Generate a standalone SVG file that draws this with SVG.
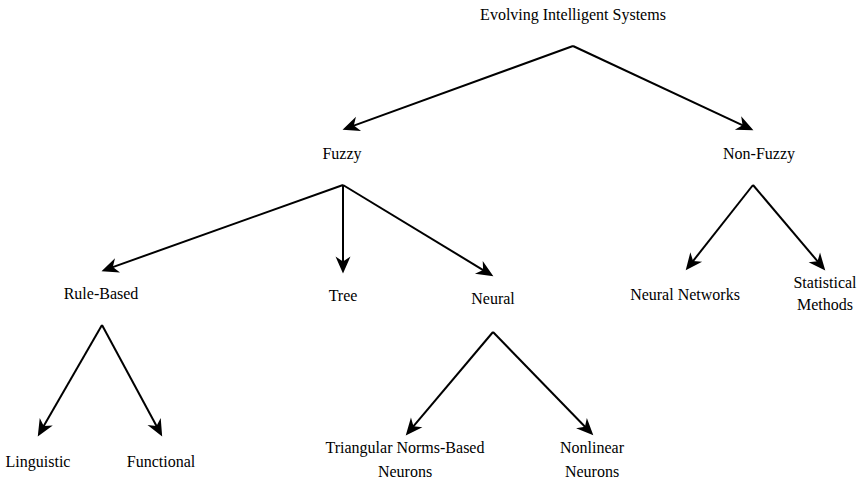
<svg xmlns="http://www.w3.org/2000/svg" width="859" height="480" viewBox="0 0 859 480">
  <style>
    .lbl { font-family: "Liberation Serif", "Times New Roman", serif; font-size: 16px; fill: #000; text-anchor: middle; }
    .edge { stroke: #000; stroke-width: 2; fill: none; marker-end: url(#head); }
  </style>
  <defs>
    <!-- classic arrowhead; the line stops 10px short of the tip -->
    <marker id="head" markerUnits="userSpaceOnUse" markerWidth="20" markerHeight="18" viewBox="-8 -9 20 18" refX="0" refY="0" orient="auto" overflow="visible">
      <path d="M10.5,0 L-6.5,-7.5 L-1.5,0 L-6.5,7.5 Z" fill="#000"/>
    </marker>
  </defs>
  <rect width="859" height="480" fill="#fff"/>

  <g id="connectors">
    <path class="edge" d="M573,46 L352.4,126.1"/>
    <path class="edge" d="M573,46 L743.9,125.8"/>
    <path class="edge" d="M343,185 L111.4,267.6"/>
    <path class="edge" d="M343,185 L343,263"/>
    <path class="edge" d="M343,185 L484.4,270.8"/>
    <path class="edge" d="M753,185 L692.2,262.1"/>
    <path class="edge" d="M753,185 L818.5,262.4"/>
    <path class="edge" d="M102,325 L43,427.3"/>
    <path class="edge" d="M102,325 L157.2,427.2"/>
    <path class="edge" d="M493,332 L412.5,427.4"/>
    <path class="edge" d="M493,332 L586,427.8"/>
  </g>

  <g id="root"><text class="lbl" x="573" y="20">Evolving Intelligent Systems</text></g>
  <g id="fuzzy"><text class="lbl" x="342" y="159">Fuzzy</text></g>
  <g id="non-fuzzy"><text class="lbl" x="759" y="159">Non-Fuzzy</text></g>
  <g id="rule-based"><text class="lbl" x="101" y="299">Rule-Based</text></g>
  <g id="tree"><text class="lbl" x="343" y="301">Tree</text></g>
  <g id="neural"><text class="lbl" x="493" y="304">Neural</text></g>
  <g id="neural-networks"><text class="lbl" x="685" y="300">Neural Networks</text></g>
  <g id="statistical-methods"><text class="lbl" x="825" y="288">Statistical</text><text class="lbl" x="825" y="310">Methods</text></g>
  <g id="linguistic"><text class="lbl" x="38" y="467">Linguistic</text></g>
  <g id="functional"><text class="lbl" x="161" y="467">Functional</text></g>
  <g id="t-norm-neurons"><text class="lbl" x="405" y="453">Triangular Norms-Based</text><text class="lbl" x="405" y="477">Neurons</text></g>
  <g id="nonlinear-neurons"><text class="lbl" x="592" y="453">Nonlinear</text><text class="lbl" x="592" y="477">Neurons</text></g>
</svg>
